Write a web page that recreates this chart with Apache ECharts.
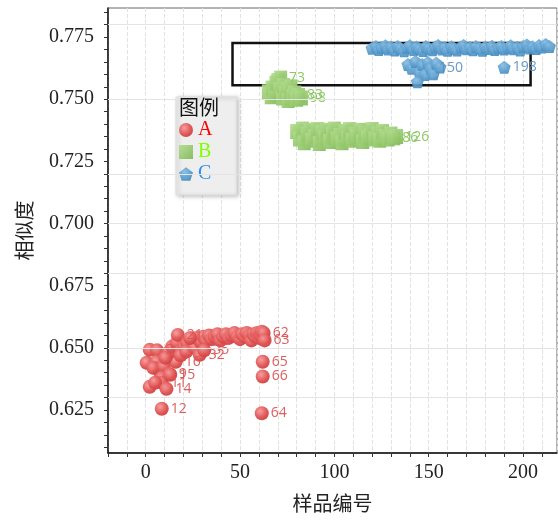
<!DOCTYPE html>
<html>
<head>
<meta charset="utf-8">
<script src="https://cdn.jsdelivr.net/npm/echarts@6/dist/echarts.min.js"></script>
<style>
html,body{margin:0;padding:0;background:#fff;}
#chart{width:558px;height:521px;}
</style>
</head>
<body>
<div id="chart"></div>
<script>
// ---- Series A (red circles) ----
const aId = [1,2,3,4,5,6,7,8,9,10,11,12,13,14,15,16,17,18,19,20,21,22,23,24,25,26,27,28,29,30,31,32,33,34,35,36,37,38,39,40,41,42,43,44,45,46,47,48,49,50,51,52,53,54,55,56,57,58,59,60,61,62,63,64,65,66];
const aX = [0.5,2.1,6.0,2.1,5.8,7.4,4.0,9.5,12.7,8.5,8.5,8.5,5.0,11.0,13.0,15.9,12.0,14.0,16.4,10.5,17.0,19.0,20.5,22.0,24.5,18.5,21.5,26.0,27.0,29.0,23.5,28.6,30.5,32.0,31.0,33.5,35.0,36.5,38.0,39.5,41.0,42.5,44.0,45.5,47.0,48.5,50.0,51.0,52.5,53.5,55.0,56.0,57.0,58.0,59.0,60.0,60.5,61.0,61.5,62.0,62.5,62.5,63.0,61.5,62.0,62.0];
const aY = [0.6440,0.6492,0.6490,0.6343,0.6444,0.6404,0.6420,0.6425,0.6395,0.6380,0.6360,0.6255,0.6360,0.6335,0.6392,0.6444,0.6480,0.6505,0.6520,0.6460,0.6552,0.6492,0.6505,0.6520,0.6530,0.6470,0.6485,0.6500,0.6540,0.6525,0.6540,0.6472,0.6545,0.6530,0.6490,0.6550,0.6535,0.6545,0.6555,0.6530,0.6545,0.6555,0.6540,0.6550,0.6560,0.6545,0.6535,0.6555,0.6545,0.6560,0.6550,0.6530,0.6555,0.6545,0.6560,0.6540,0.6555,0.6550,0.6565,0.6545,0.6540,0.6560,0.6530,0.6237,0.6444,0.6385];
const aShow = [3,9,11,12,14,15,16,21,32,35,62,63,64,65,66];

// ---- Series B (green squares) ----
const bId = [67,68,69,70,71,72,73,74,75,76,77,78,79,80,81,82,84,85,83,98,
  87,88,89,90,91,92,93,94,95,96,97,99,100,101,102,103,104,105,106,107,108,109,110,111,112,113,114,115,116,117,118,119,120,121,122,123,124,125,86,126];
const bX = [65,66.5,67,68.5,69,70,71.5,71,72.5,73,74,75,75.5,76.5,77,78,79,80,81,82.5,
  80,81.5,83,84,85.5,87,88,89.5,91,92,93.5,95,96,97.5,99,100,101.5,103,104,105.5,107,108,109.5,111,112,113.5,115,116,117.5,119,120,121.5,123,124,125.5,127,128.5,130,131.5,133];
const bY = [0.7530,0.7510,0.7545,0.7520,0.7565,0.7575,0.7585,0.7540,0.7505,0.7555,0.7525,0.7540,0.7495,0.7530,0.7550,0.7510,0.7525,0.7500,0.7515,0.7505,
  0.7370,0.7340,0.7380,0.7325,0.7360,0.7375,0.7335,0.7350,0.7378,0.7322,0.7365,0.7345,0.7375,0.7330,0.7360,0.7380,0.7340,0.7355,0.7325,0.7370,0.7345,0.7378,0.7335,0.7360,0.7350,0.7375,0.7330,0.7365,0.7345,0.7355,0.7378,0.7340,0.7360,0.7335,0.7370,0.7350,0.7340,0.7360,0.7345,0.7350];
const bShow = [73,83,98,86,126];

// ---- Series C (blue pentagons) ----
const cId = [127,128,129,130,131,132,133,134,135,136,137,138,139,141,142,143,144,145,146,147,148,149,151,152,153,154,155,156,157,158,159,160,161,162,163,164,165,166,167,168,169,170,171,172,173,174,175,176,177,178,179,180,181,182,183,184,185,
  186,187,188,189,140,190,191,150,192,193,194,195,198];
const cX = [120,122,123.5,125,127,128.5,130,132,133.5,135,137,138.5,140,142,143.5,145,147,148.5,150,152,153.5,155,157,158.5,160,162,163.5,165,167,168.5,170,172,173.5,175,177,178.5,180,182,183.5,185,187,188.5,190,192,193.5,195,197,198.5,200,202,203.5,205,207,208.5,210,212,214,
  139,141,143,145,146.5,148,149.5,151,152.5,154,156,144,190];
const cY = [0.7705,0.7712,0.7700,0.7708,0.7715,0.7702,0.7710,0.7698,0.7712,0.7705,0.7695,0.7708,0.7715,0.7700,0.7710,0.7703,0.7696,0.7712,0.7705,0.7699,0.7710,0.7716,0.7702,0.7708,0.7697,0.7711,0.7704,0.7698,0.7710,0.7716,0.7703,0.7708,0.7699,0.7712,0.7705,0.7697,0.7710,0.7704,0.7713,0.7700,0.7707,0.7712,0.7702,0.7708,0.7715,0.7703,0.7709,0.7698,0.7712,0.7718,0.7706,0.7711,0.7704,0.7716,0.7710,0.7720,0.7712,
  0.7640,0.7625,0.7652,0.7610,0.7640,0.7600,0.7648,0.7625,0.7603,0.7645,0.7630,0.7570,0.7629];
const cShow = [150,198];

// ---- Axes / annotations ----
const yLabelValues = [0.625,0.650,0.675,0.700,0.725,0.750,0.775];
const yTickValues = [0.610,0.615,0.620,0.625,0.630,0.635,0.640,0.645,0.650,0.655,0.660,0.665,0.670,0.675,0.680,0.685,0.690,0.695,0.700,0.705,0.710,0.715,0.720,0.725,0.730,0.735,0.740,0.745,0.750,0.755,0.760,0.765,0.770,0.775,0.780,0.785];
const boxX = [46, 204];
const boxY = [0.7556, 0.7726];

function build(xs, ys, ids){ return xs.map((x,i)=>({value:[x, ys[i]], id: ids[i]})); }

const chart = echarts.init(document.getElementById('chart'), null, {renderer:'canvas'});
const serif = 'Liberation Serif, Times New Roman, serif';
const cjk = 'Noto Sans CJK SC, sans-serif';
const pent = 'path://M50,0 L97.55,34.55 L79.39,90.45 L20.61,90.45 L2.45,34.55 Z';

function labelFor(show, color){
  return {show:true, position:'right', distance:2, fontSize:14, color:color,
    fontFamily:'Open Sans, sans-serif',
    formatter: p => show.includes(p.data.id) ? String(p.data.id) : ''};
}

chart.setOption({
  animation:false,
  backgroundColor:'#fff',
  grid:{left:108, right:1, top:8, bottom:68, show:true, borderColor:'#666', borderWidth:1},
  title:{text:'图例', left:179, top:97, padding:0,
    textStyle:{fontFamily:cjk, fontSize:20, fontWeight:'normal', color:'#111'}},
  legend:{
    orient:'vertical', left:176, top:97,
    padding:[23, 24, 11, 3], itemGap:2, itemWidth:14, itemHeight:14,
    backgroundColor:'#eeeeee', borderColor:'#dddddd', borderWidth:1,
    shadowBlur:4, shadowOffsetX:2, shadowOffsetY:1, shadowColor:'rgba(0,0,0,0.25)',
    textStyle:{fontFamily:serif, fontSize:20, lineHeight:20},
    data:[
      {name:'A', textStyle:{color:'#ff0000'}},
      {name:'B', textStyle:{color:'#7fff00'}},
      {name:'C', textStyle:{color:'#2a8ff0'}}
    ]
  },
  xAxis:{
    type:'value', min:-20, max:218, interval:10,
    name:'样品编号', nameLocation:'middle', nameGap:40,
    nameTextStyle:{fontFamily:cjk, fontSize:20, color:'#222'},
    axisLine:{show:true, onZero:false, lineStyle:{color:'#111', width:1.5}},
    axisTick:{show:true, length:4, lineStyle:{color:'#333'}},
    axisLabel:{fontFamily:serif, fontSize:20, color:'#222', margin:10,
      formatter: v => (v % 50 === 0 ? String(v) : ''), showMaxLabel:false},
    splitLine:{show:true, lineStyle:{color:'#e2e2e2', type:'dashed', width:1}}
  },
  yAxis:{
    type:'value', min:0.6077, max:0.7867,
    name:'相似度', nameLocation:'middle', nameGap:74,
    nameTextStyle:{fontFamily:cjk, fontSize:20, color:'#222'},
    axisLine:{show:true, onZero:false, lineStyle:{color:'#111', width:1.5}},
    axisTick:{show:true, length:4, customValues:yTickValues, lineStyle:{color:'#333'}},
    axisLabel:{fontFamily:serif, fontSize:20, color:'#222', margin:14,
      customValues:yLabelValues, formatter: v => v.toFixed(3)},
    splitLine:{show:false}
  },
  series:[
    {
      name:'gridlines', type:'scatter', data:[], z:0, silent:true,
      markLine:{silent:true, symbol:'none', label:{show:false},
        lineStyle:{color:'#e4e4e4', type:'solid', width:1},
        data: yLabelValues.map(v=>({yAxis:v}))}
    },
    {
      name:'A', type:'scatter', symbol:'circle', symbolSize:14, z:3,
      data: build(aX, aY, aId),
      itemStyle:{opacity:0.95,
        color:new echarts.graphic.RadialGradient(0.38,0.35,0.75,[
          {offset:0,color:'#f59a9a'},{offset:0.6,color:'#e05252'},{offset:1,color:'#c83a3a'}])},
      label: labelFor(aShow, '#d95555')
    },
    {
      name:'B', type:'scatter', symbol:'rect', symbolSize:[13,15], z:3,
      data: build(bX, bY, bId),
      itemStyle:{opacity:0.92,
        color:new echarts.graphic.LinearGradient(0,0,1,1,[
          {offset:0,color:'#b2dc8e'},{offset:1,color:'#7fb955'}])},
      label: labelFor(bShow, '#86c45a')
    },
    {
      name:'C', type:'scatter', symbol:pent, symbolSize:13, z:3,
      data: build(cX, cY, cId),
      itemStyle:{opacity:0.92,
        color:new echarts.graphic.RadialGradient(0.4,0.35,0.75,[
          {offset:0,color:'#86bde3'},{offset:1,color:'#3e86bd'}])},
      label: labelFor(cShow, '#5b90bd'),
      markArea:{silent:true,
        itemStyle:{color:'rgba(0,0,0,0)', borderColor:'#111', borderWidth:2.5},
        data:[[{coord:[boxX[0], boxY[1]]},{coord:[boxX[1], boxY[0]]}]]}
    }
  ]
});
</script>
</body>
</html>
